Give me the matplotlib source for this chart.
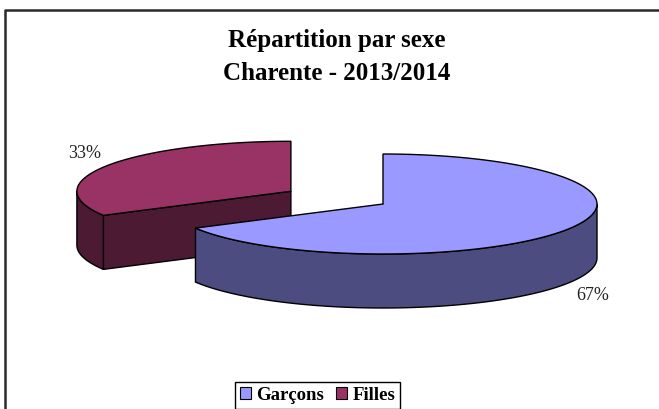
import numpy as np
import matplotlib
matplotlib.use('Agg')
import matplotlib.pyplot as plt
from matplotlib.patches import Polygon, Patch
from matplotlib.lines import Line2D

# data
labels = ['Garçons', 'Filles']
values = [67, 33]
pct_labels = ['67%', '33%']
top_colors = ['#9999FF', '#993366']
side_colors = ['#4C4C80', '#4D1A33']
explode = [0.0, 0.5]

title = 'Répartition par sexe\nCharente - 2013/2014'

# geometry of the 3d pie (in pixels)
cx, cy = 383, 204
rx, ry = 214, 50
depth = 54

W, H = 659, 409
fig = plt.figure(figsize=(W / 100, H / 100), dpi=100)
ax = fig.add_axes([0, 0, 1, 1])
ax.set_xlim(0, W)
ax.set_ylim(H, 0)
ax.axis('off')

def pt(c, th):
    # th in degrees, clockwise from 12 o'clock
    t = np.radians(th)
    return c[0] + rx * np.sin(t), c[1] - ry * np.cos(t)

def arc(c, a, b, n=80):
    ts = np.linspace(a, b, n)
    return [pt(c, t) for t in ts]

fracs = np.array(values, dtype=float) / sum(values)
starts = np.concatenate([[0], np.cumsum(fracs)[:-1]]) * 360
ends = np.cumsum(fracs) * 360

slices = []
for i in range(len(values)):
    a, b = starts[i], ends[i]
    m = np.radians((a + b) / 2)
    c = (cx + rx * explode[i] * np.sin(m), cy - ry * explode[i] * np.cos(m))
    slices.append((i, a, b, c))

# back slices first
order = sorted(slices, key=lambda s: s[3][1])
lw = 1.0
for i, a, b, c in order:
    # radial faces that look to the front
    for ang, normal in ((a, a - 90), (b, b + 90)):
        if np.cos(np.radians(normal)) < -0.05:
            p = pt(c, ang)
            quad = [c, p, (p[0], p[1] + depth), (c[0], c[1] + depth)]
            ax.add_patch(Polygon(quad, closed=True, fc=side_colors[i], ec='black', lw=lw))
    # outer side, visible between 90 and 270
    lo, hi = max(a, 90), min(b, 270)
    if hi > lo:
        top = arc(c, lo, hi)
        bot = [(x, y + depth) for x, y in top[::-1]]
        ax.add_patch(Polygon(top + bot, closed=True, fc=side_colors[i], ec='black', lw=lw))
    # top face
    ax.add_patch(Polygon([c] + arc(c, a, b, 150), closed=True, fc=top_colors[i], ec='black', lw=lw))

# percentage labels
lab_pos = {0: (593, 295), 1: (85, 153)}
for i in range(len(values)):
    ax.text(*lab_pos[i], pct_labels[i], ha='center', va='center',
            family='Liberation Serif', fontsize=13, color='#222222')

ax.text(337, 57, title, ha='center', va='center', family='Liberation Serif',
        fontweight='bold', fontsize=18, linespacing=1.5)

# frame
ax.add_line(Line2D([5, 5, W], [H, 10, 10], color='#2a2a2a', lw=1.8))

handles = [Patch(fc=top_colors[i], ec='black', lw=0.8) for i in range(len(labels))]
leg = fig.legend(handles, labels, ncol=2, loc='center',
                 bbox_to_anchor=(317.5 / W, 1 - 395.5 / H),
                 prop={'family': 'Liberation Serif', 'weight': 'bold', 'size': 13.5},
                 handlelength=0.6, handleheight=0.6, handletextpad=0.3,
                 columnspacing=0.6, borderpad=0.25, fancybox=False, framealpha=1)
leg.get_frame().set_edgecolor('black')
leg.get_frame().set_linewidth(1.0)

plt.savefig('out.png', dpi=100)
